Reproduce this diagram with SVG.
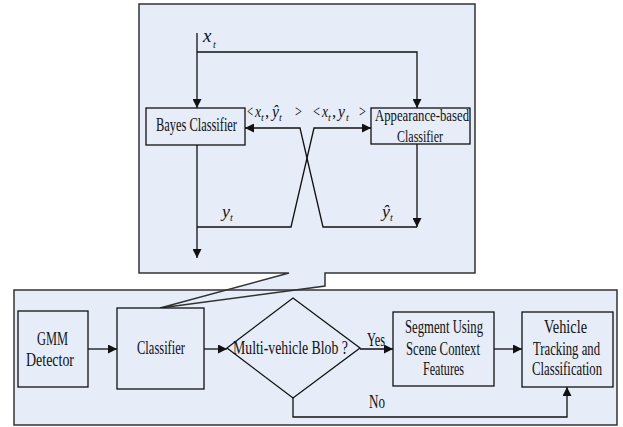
<svg xmlns="http://www.w3.org/2000/svg" width="623" height="427" viewBox="0 0 623 427">
<style>
.cont{fill:#E6ECF8;stroke:#333;stroke-width:1.5}
.box{fill:#E6ECF8;stroke:#111;stroke-width:1.3}
.ln{fill:none;stroke:#111;stroke-width:1.3}
text{font-family:"Liberation Serif","Times New Roman",serif;fill:#111}
.t{font-size:18.5px}
.a{font-size:17px}
.m{font-size:17px;font-style:italic}
.n{font-size:17px}
.s{font-size:10px;font-style:italic}
</style>
<defs>
<marker id="ah" viewBox="0 0 10 10" refX="10" refY="5" markerWidth="9" markerHeight="9" markerUnits="userSpaceOnUse" orient="auto">
<path d="M0,0 L10,5 L0,10 Z" fill="#111"/>
</marker>
</defs>
<rect x="14" y="290" width="603" height="135" fill="#E6ECF8"/>
<g id="callout">
<path class="cont" d="M139,4 H475 V273 H325 V286 L160,308 L289,273 H139 Z"/>
</g>
<g id="system">
<rect x="14" y="290" width="603" height="135" fill="none" stroke="#333" stroke-width="1.5"/>
</g>
<g id="gmm">
<rect class="box" x="18" y="311" width="70" height="76"/>
<text class="t" x="37" y="345" textLength="31" lengthAdjust="spacingAndGlyphs">GMM</text>
<text class="t" x="26" y="366" textLength="48" lengthAdjust="spacingAndGlyphs">Detector</text>
</g>
<g id="classifier">
<rect class="box" x="117" y="308" width="87" height="81"/>
<text class="t" x="137" y="354" textLength="48" lengthAdjust="spacingAndGlyphs">Classifier</text>
</g>
<g id="decision">
<path class="box" d="M227,348 L293,298 L360,348 L293,398 Z"/>
<text class="t" x="233" y="354" textLength="115" lengthAdjust="spacingAndGlyphs">Multi-vehicle Blob ?</text>
</g>
<g id="segment">
<rect class="box" x="393" y="312" width="101" height="74"/>
<text class="t" x="405" y="333" textLength="78" lengthAdjust="spacingAndGlyphs">Segment Using</text>
<text class="t" x="406" y="355" textLength="74" lengthAdjust="spacingAndGlyphs">Scene Context</text>
<text class="t" x="423" y="375" textLength="41" lengthAdjust="spacingAndGlyphs">Features</text>
</g>
<g id="tracking">
<rect class="box" x="522" y="312" width="91" height="75"/>
<text class="t" x="544" y="333" textLength="43" lengthAdjust="spacingAndGlyphs">Vehicle</text>
<text class="t" x="533" y="355" textLength="67" lengthAdjust="spacingAndGlyphs">Tracking and</text>
<text class="t" x="532" y="375" textLength="70" lengthAdjust="spacingAndGlyphs">Classification</text>
</g>
<g id="bayes">
<rect class="box" x="146" y="108" width="99" height="37"/>
<text class="t" x="156" y="131" textLength="81" lengthAdjust="spacingAndGlyphs">Bayes Classifier</text>
</g>
<g id="appearance">
<rect class="box" x="371" y="108" width="99" height="36"/>
<text class="a" x="375" y="121" textLength="94" lengthAdjust="spacingAndGlyphs">Appearance-based</text>
<text class="a" x="397" y="142" textLength="46" lengthAdjust="spacingAndGlyphs">Classifier</text>
</g>
<g id="connectors">
<line class="ln" x1="88" y1="349" x2="117" y2="349" marker-end="url(#ah)"/>
<line class="ln" x1="204" y1="349" x2="227" y2="349" marker-end="url(#ah)"/>
<line class="ln" x1="360" y1="349" x2="393" y2="349" marker-end="url(#ah)"/>
<line class="ln" x1="494" y1="349" x2="522" y2="349" marker-end="url(#ah)"/>
<path class="ln" d="M293,398 V417 H567 V387" marker-end="url(#ah)"/>
<path class="ln" d="M197,33 V108" marker-end="url(#ah)"/>
<path class="ln" d="M197,52 H417 V108" marker-end="url(#ah)"/>
<path class="ln" d="M197,145 V258" marker-end="url(#ah)"/>
<path class="ln" d="M417,144 V227" marker-end="url(#ah)"/>
<path class="ln" d="M197,227 H291 L314,128 H371" marker-end="url(#ah)"/>
<path class="ln" d="M417,227 H323 L300,128 H245" marker-end="url(#ah)"/>
<text class="t" x="367" y="346" textLength="18" lengthAdjust="spacingAndGlyphs">Yes</text>
<text class="t" x="369" y="408" textLength="16" lengthAdjust="spacingAndGlyphs">No</text>
<text class="m" x="203" y="42" style="font-size:19px">x</text>
<text class="s" x="213" y="48">t</text>
<text class="n" x="247" y="117" textLength="6" lengthAdjust="spacingAndGlyphs">&lt;</text>
<text class="m" x="255" y="117" textLength="6" lengthAdjust="spacingAndGlyphs">x</text>
<text class="s" x="261" y="121">t</text>
<text class="n" x="265" y="117">,</text>
<text class="m" x="272" y="117" textLength="7" lengthAdjust="spacingAndGlyphs">ŷ</text>
<text class="s" x="279" y="121">t</text>
<text class="n" x="295" y="117" textLength="7" lengthAdjust="spacingAndGlyphs">&gt;</text>
<text class="n" x="313" y="117" textLength="7" lengthAdjust="spacingAndGlyphs">&lt;</text>
<text class="m" x="322" y="117" textLength="6" lengthAdjust="spacingAndGlyphs">x</text>
<text class="s" x="328" y="121">t</text>
<text class="n" x="332" y="117">,</text>
<text class="m" x="338" y="117" textLength="7" lengthAdjust="spacingAndGlyphs">y</text>
<text class="s" x="346" y="121">t</text>
<text class="n" x="359" y="117" textLength="7" lengthAdjust="spacingAndGlyphs">&gt;</text>
<text class="m" x="222" y="217" textLength="8" lengthAdjust="spacingAndGlyphs">y</text>
<text class="s" x="230" y="221">t</text>
<text class="m" x="382" y="217" textLength="8" lengthAdjust="spacingAndGlyphs">ŷ</text>
<text class="s" x="390" y="221">t</text>
</g>
</svg>
